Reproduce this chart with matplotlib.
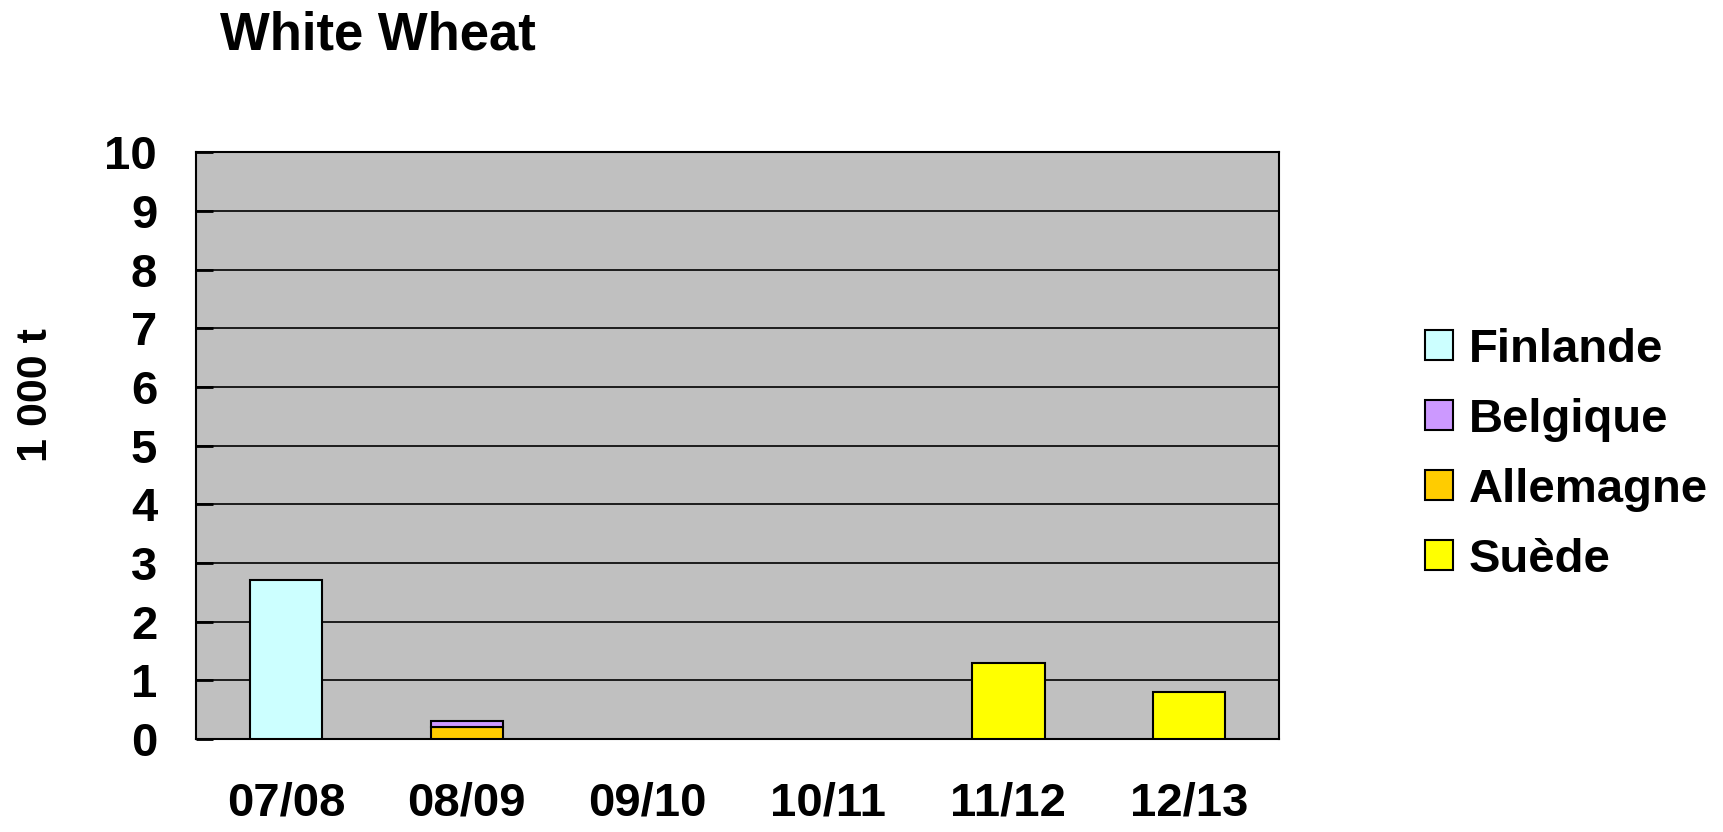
import numpy as np
import matplotlib
matplotlib.use("Agg")
import matplotlib.pyplot as plt

# data (1 000 t), stacked bottom -> top
seasons = ["07/08", "08/09", "09/10", "10/11", "11/12", "12/13"]
suede = [0, 0, 0, 0, 1.3, 0.8]
allemagne = [0, 0.2, 0, 0, 0, 0]
belgique = [0, 0.1, 0, 0, 0, 0]
finlande = [2.7, 0, 0, 0, 0, 0]

series = [
    ("Suède", suede, "#FFFF00"),
    ("Allemagne", allemagne, "#FFCC00"),
    ("Belgique", belgique, "#CC99FF"),
    ("Finlande", finlande, "#CCFFFF"),
]

plt.rcParams["font.family"] = ["Liberation Sans", "DejaVu Sans"]
plt.rcParams["font.weight"] = "bold"

fig = plt.figure(figsize=(17.24, 8.32), dpi=100)
ax = fig.add_axes([0.1137, 0.112, 0.742 - 0.1137, 0.817 - 0.112])
ax.set_facecolor("#C0C0C0")

x = np.arange(len(seasons))
bottom = np.zeros(len(seasons))
handles = []
for name, vals, col in series:
    vals = np.array(vals, dtype=float)
    mask = vals > 0
    b = ax.bar(x[mask], vals[mask], width=0.4, bottom=bottom[mask], color=col,
               edgecolor="black", linewidth=1.5, zorder=3, label=name)
    handles.append(b)
    bottom += vals

ax.set_xlim(-0.5, len(seasons) - 0.5)
ax.set_ylim(0, 10)
ax.set_yticks(range(0, 11))
ax.yaxis.grid(True, color="black", linewidth=1.2, zorder=1)
ax.set_axisbelow(True)
ax.set_xticks(x)
ax.set_xticklabels(seasons)
ax.tick_params(axis="x", length=0, pad=31, labelsize=34)
ax.tick_params(axis="y", direction="in", length=12, width=2, pad=28, labelsize=34)
for sp in ax.spines.values():
    sp.set_color("black")
    sp.set_linewidth(1.5)

fig.text(36 / 1724, 1 - 395 / 832, "1 000 t", fontsize=31, fontweight="bold",
         rotation=90, ha="center", va="center")
fig.text(220 / 1724, 1 - 35 / 832, "White Wheat", fontsize=38, fontweight="bold",
         ha="left", va="center")

leg = fig.legend(handles[::-1], [s[0] for s in series][::-1],
                 loc="center left", bbox_to_anchor=(1425 / 1724, 1 - 455 / 832),
                 frameon=False, fontsize=34, handlelength=0.6, handleheight=0.6,
                 handletextpad=0.33, labelspacing=0.55, borderaxespad=0, borderpad=0)
for h in leg.legend_handles:
    h.set_linewidth(1.5)

fig.savefig("out.png", dpi=100)
